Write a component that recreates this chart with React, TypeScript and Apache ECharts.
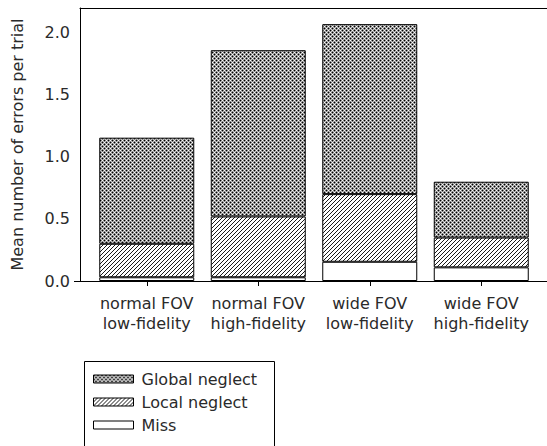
import React, { useEffect, useRef } from "react";
import * as echarts from "echarts";

const categories = [
  "normal FOV\nlow-fidelity",
  "normal FOV\nhigh-fidelity",
  "wide FOV\nlow-fidelity",
  "wide FOV\nhigh-fidelity",
];
const missValues = [0.03, 0.03, 0.155, 0.11];
const localNeglectValues = [0.27, 0.49, 0.545, 0.24];
const globalNeglectValues = [0.855, 1.34, 1.37, 0.45];
const seriesNames = ["Global neglect", "Local neglect", "Miss"];
const yAxisTitle = "Mean number of errors per trial";

function makeTile(size: number, pick: (x: number, y: number) => string) {
  const c = document.createElement("canvas");
  c.width = size;
  c.height = size;
  const ctx = c.getContext("2d")!;
  for (let y = 0; y < size; y++) {
    for (let x = 0; x < size; x++) {
      ctx.fillStyle = pick(x, y);
      ctx.fillRect(x, y, 1, 1);
    }
  }
  return c;
}

export default function App() {
  const ref = useRef<HTMLDivElement>(null);
  useEffect(() => {
    if (!ref.current) return;
    const chart = echarts.init(ref.current, null, { renderer: "svg" });
    const K = "#000000", M = "#808080", L = "#c4c4c4", W = "#ffffff";
    const crossGrid = [
      [K, M, W, M],
      [M, L, M, L],
      [W, M, K, M],
      [M, L, M, L],
    ];
    const cross = makeTile(4, (x, y) => crossGrid[y][x]);
    const hatch = makeTile(4, (x, y) => ((x + y) % 4 === 3 ? "#1a1a1a" : "#ffffff"));
    const font = "'DejaVu Sans', Verdana, sans-serif";
    const fs = 16;
    const txt = "#2a2a2a";
    const barBase = {
      type: "bar" as const,
      stack: "total",
      barWidth: 95,
      xAxisIndex: 2,
      yAxisIndex: 1,
    };
    const hiddenValueAxis = {
      type: "value",
      min: 0,
      max: 1,
      axisTick: { show: false },
      axisLabel: { show: false },
      splitLine: { show: false },
    };
    chart.setOption({
      animation: false,
      backgroundColor: "#ffffff",
      textStyle: { fontFamily: font },
      grid: [
        { left: 80, right: 0, top: 8, bottom: 165 },
        { left: 91, right: 10, top: 8, bottom: 165 },
      ],
      legend: {
        data: seriesNames,
        orient: "vertical",
        left: 93,
        top: 371,
        icon: "rect",
        itemWidth: 40,
        itemHeight: 8,
        itemGap: 7,
        padding: 0,
        textStyle: { fontSize: fs, color: txt, fontFamily: font, padding: [0, 0, 0, 3] },
        itemStyle: { borderColor: "#000", borderWidth: 1 },
      },
      graphic: [
        {
          type: "rect",
          left: 82,
          top: 359,
          shape: { width: 190, height: 120 },
          style: { fill: "none", stroke: "#000", lineWidth: 1 },
          silent: true,
        },
      ],
      xAxis: [
        {
          ...hiddenValueAxis,
          gridIndex: 0,
          position: "bottom",
          axisLine: { show: true, lineStyle: { color: "#000", width: 1 } },
        },
        {
          ...hiddenValueAxis,
          gridIndex: 0,
          position: "top",
          axisLine: { show: true, lineStyle: { color: "#000", width: 1 } },
        },
        {
          type: "category",
          gridIndex: 1,
          data: categories,
          axisLine: { show: false },
          axisTick: {
            show: true,
            alignWithLabel: true,
            length: 5,
            lineStyle: { color: "#000" },
          },
          axisLabel: {
            interval: 0,
            fontSize: fs,
            color: txt,
            lineHeight: 20,
            margin: 12,
            fontFamily: font,
          },
          splitLine: { show: false },
        },
      ],
      yAxis: [
        {
          type: "value",
          gridIndex: 0,
          min: 0,
          max: 2.2,
          interval: 0.5,
          name: yAxisTitle,
          nameLocation: "middle",
          nameGap: 55,
          nameTextStyle: { fontSize: fs, color: txt, fontFamily: font },
          axisLine: { show: true, lineStyle: { color: "#000", width: 1 } },
          axisTick: {
            show: true,
            customValues: [0],
            length: 6,
            lineStyle: { color: "#000" },
          },
          axisLabel: {
            fontSize: fs,
            color: txt,
            margin: 10,
            showMaxLabel: false,
            formatter: (v: number) => v.toFixed(1),
            fontFamily: font,
          },
          splitLine: { show: false },
        },
        {
          type: "value",
          gridIndex: 1,
          min: 0,
          max: 2.2,
          axisLine: { show: false },
          axisTick: { show: false },
          axisLabel: { show: false },
          splitLine: { show: false },
        },
      ],
      series: [
        {
          ...barBase,
          name: "Miss",
          data: missValues,
          itemStyle: { color: "#ffffff", borderColor: "#000", borderWidth: 1 },
        },
        {
          ...barBase,
          name: "Local neglect",
          data: localNeglectValues,
          itemStyle: {
            color: { image: hatch, repeat: "repeat" },
            borderColor: "#000",
            borderWidth: 1,
          },
        },
        {
          ...barBase,
          name: "Global neglect",
          data: globalNeglectValues,
          itemStyle: {
            color: { image: cross, repeat: "repeat" },
            borderColor: "#000",
            borderWidth: 1,
          },
        },
      ],
    } as any);
    return () => chart.dispose();
  }, []);
  return (
    <div
      ref={ref}
      style={{ position: "absolute", left: 0, top: 0, width: 547, height: 446, background: "#fff" }}
    />
  );
}
